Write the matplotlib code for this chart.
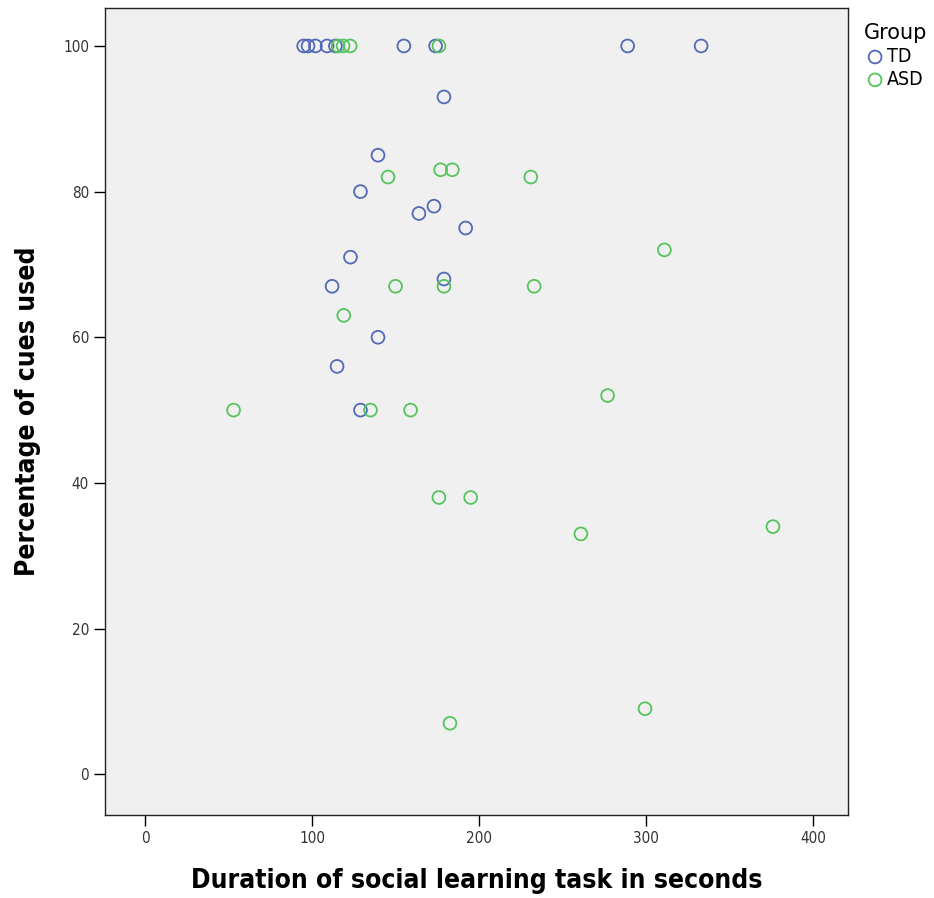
import matplotlib.pyplot as plt
import numpy as np

# Group TD
td_x = [95, 97.6, 102, 109, 114, 155, 174, 289, 333,
        179, 139.5, 129, 164, 173, 192, 123, 179, 112, 139.5, 115, 129]
td_y = [100, 100, 100, 100, 100, 100, 100, 100, 100,
        93, 85, 80, 77, 78, 75, 71, 68, 67, 60, 56, 50]

# Group ASD
asd_x = [115.6, 118.6, 122.8, 176,
         145.5, 177, 184, 231, 311, 150, 179, 233, 119,
         53, 135, 159, 277, 176, 195, 261, 376, 182.6, 299.4]
asd_y = [100, 100, 100, 100,
         82, 83, 83, 82, 72, 67, 67, 67, 63,
         50, 50, 50, 52, 38, 38, 33, 34, 7, 9]

x_ticks = [0, 100, 200, 300, 400]
y_ticks = [0, 20, 40, 60, 80, 100]

plt.rcParams['font.family'] = 'DejaVu Sans'
plt.rcParams['font.stretch'] = 'condensed'

fig = plt.figure(figsize=(9.34, 8.98), dpi=100)
ax = fig.add_axes([0.1124, 0.0924, 0.7956, 0.8986])
ax.set_facecolor('#f0f0f0')

ax.scatter(td_x, td_y, s=85, facecolors='none', edgecolors='#5468b8',
           linewidths=1.3, label='TD', zorder=3)
ax.scatter(asd_x, asd_y, s=85, facecolors='none', edgecolors='#55c45c',
           linewidths=1.3, label='ASD', zorder=3)

ax.set_xlim(-24, 421)
ax.set_ylim(-5.6, 105.2)
ax.set_xticks(x_ticks)
ax.set_yticks(y_ticks)
ax.tick_params(direction='out', length=8, width=1, labelsize=11, labelcolor='#333333')

for sp in ax.spines.values():
    sp.set_linewidth(1)
    sp.set_color('#222222')

ax.set_xlabel('Duration of social learning task in seconds', fontsize=19,
              fontweight='bold', labelpad=16)
ax.set_ylabel('Percentage of cues used', fontsize=19, fontweight='bold', labelpad=16)

leg = fig.legend(loc='upper left', bbox_to_anchor=(0.914, 0.985), frameon=False,
                 title='Group', title_fontsize=15, fontsize=14, handletextpad=0.0,
                 borderpad=0, labelspacing=0.2, handlelength=1.2, alignment='left')
leg.get_title().set_fontstretch('normal')

fig.savefig('out.png', dpi=100)
